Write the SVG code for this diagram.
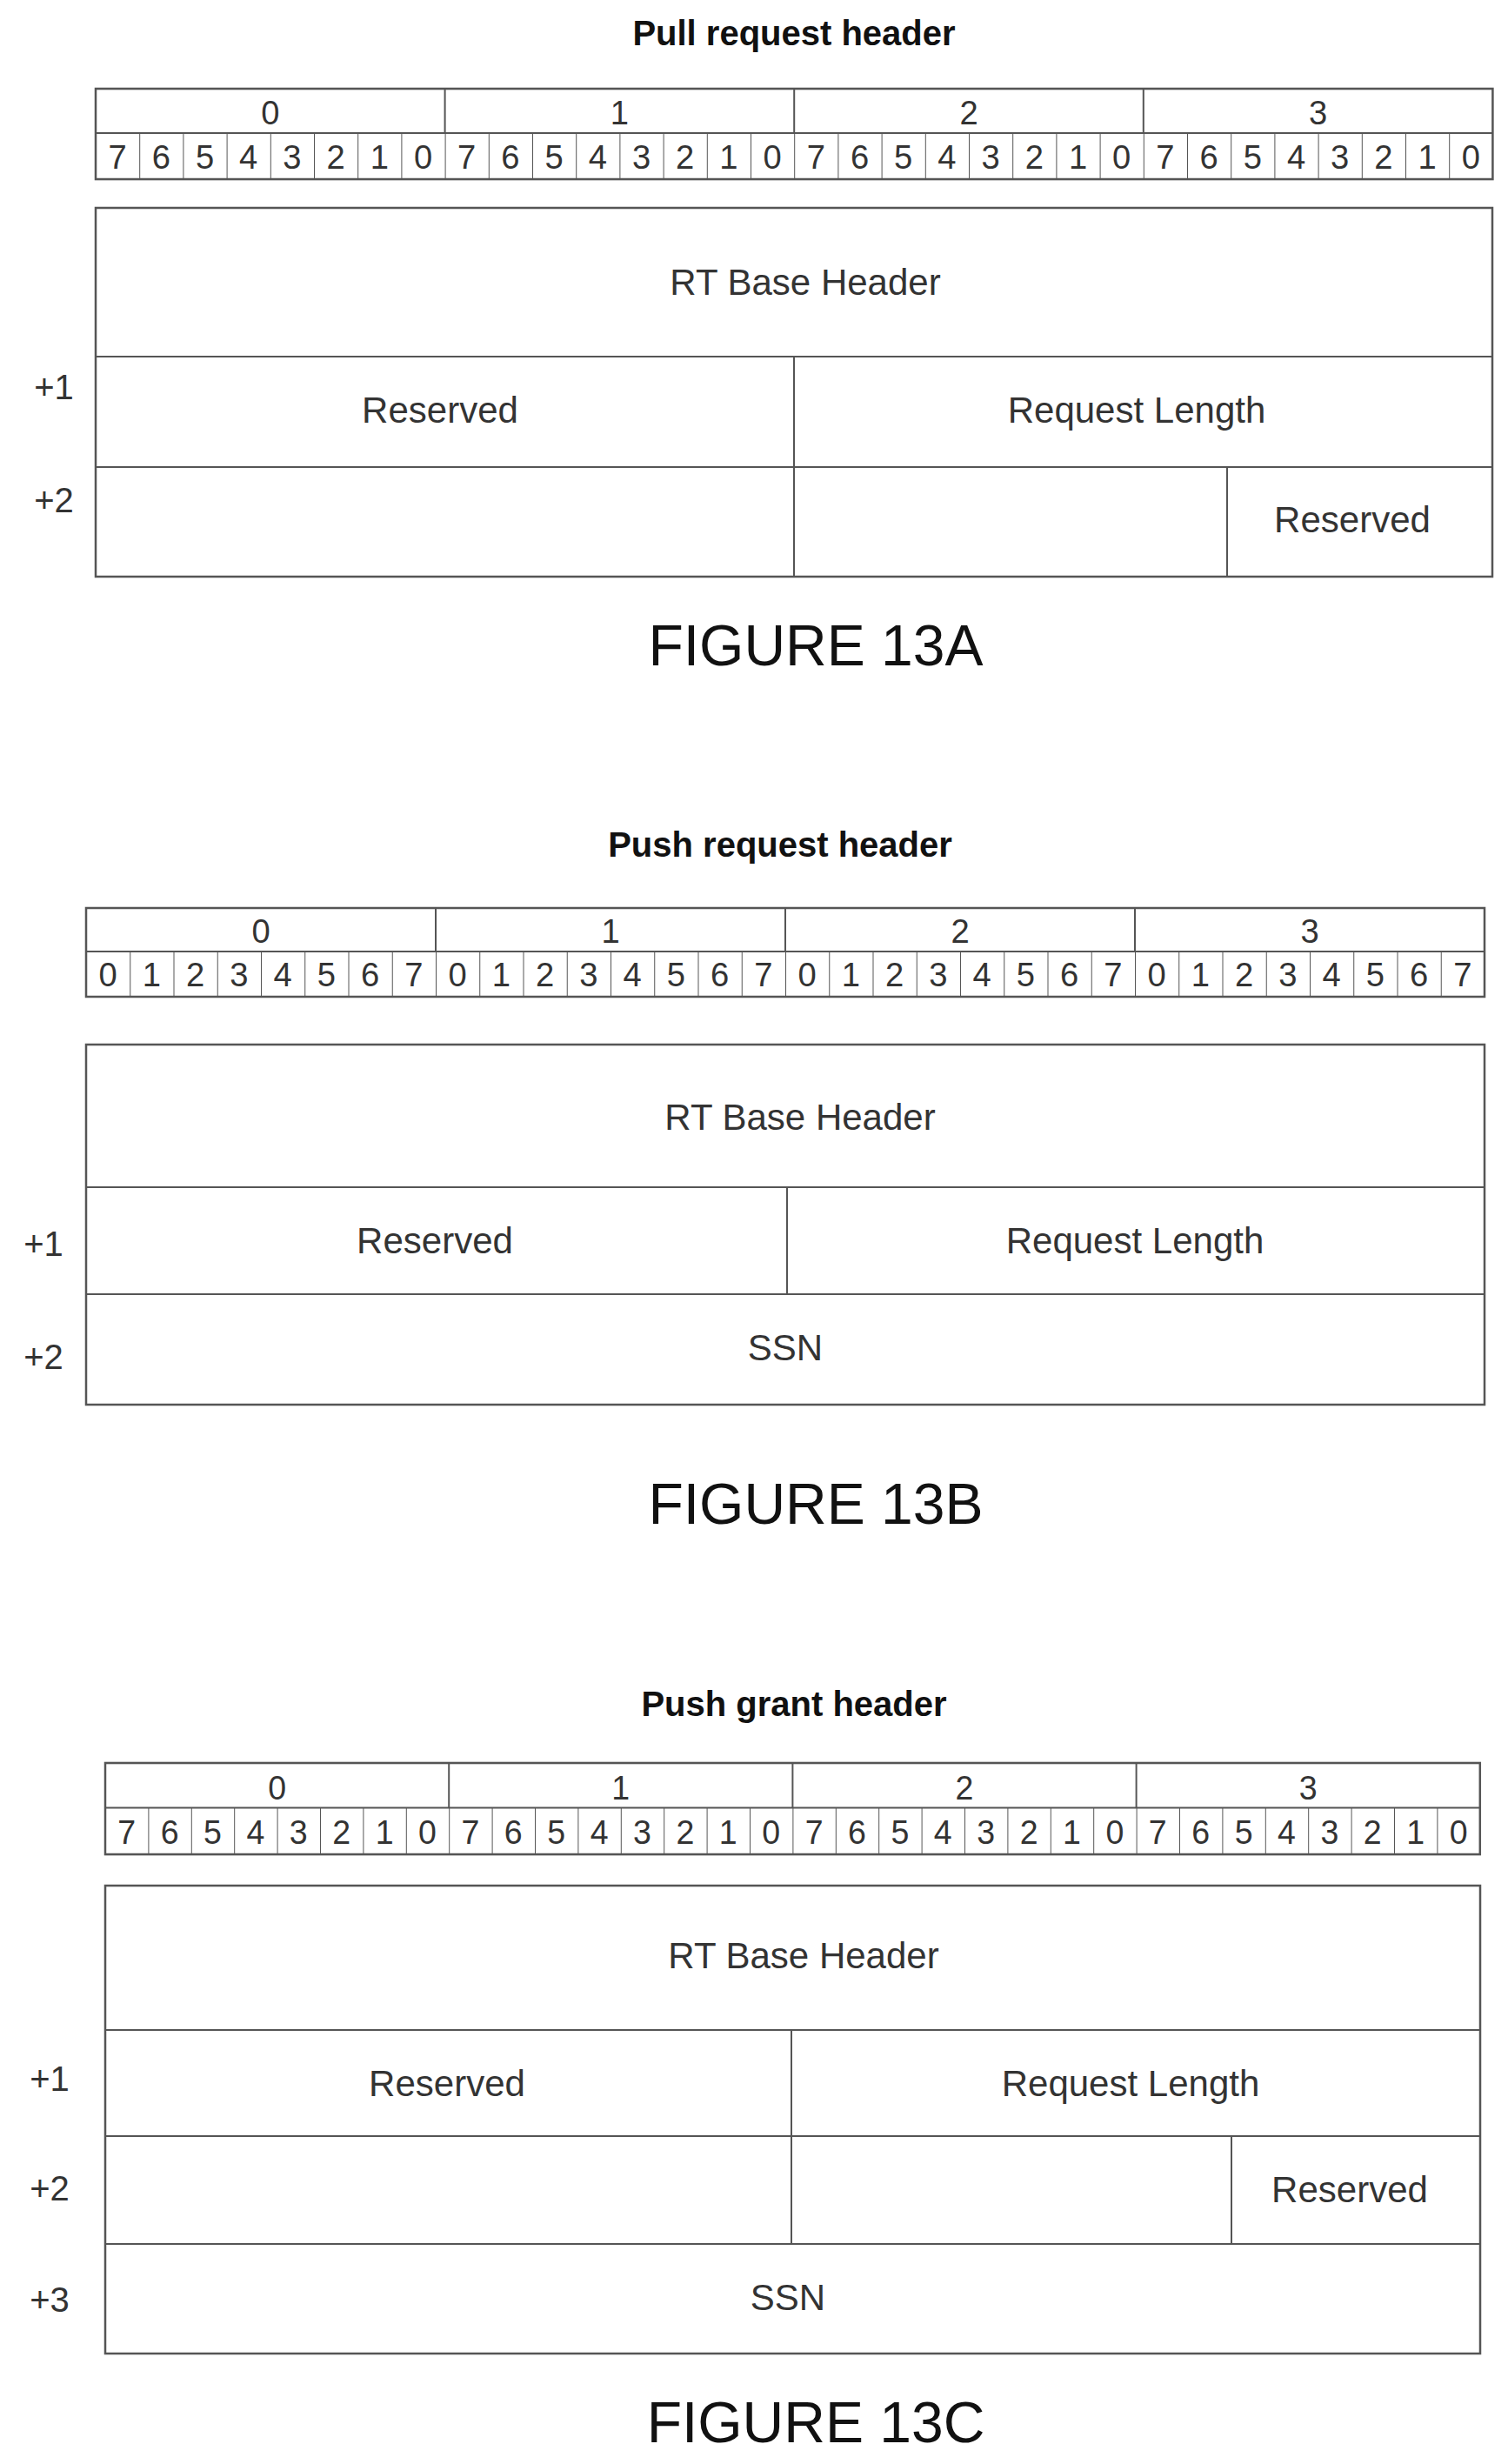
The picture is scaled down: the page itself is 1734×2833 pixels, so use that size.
<svg xmlns="http://www.w3.org/2000/svg" width="1734" height="2833" viewBox="0 0 1734 2833">
<style>
.t{font-family:"Liberation Sans",Arial,sans-serif;font-weight:bold;font-size:40px;fill:#111;text-anchor:middle}
.f{font-family:"Liberation Sans",Arial,sans-serif;font-size:66px;fill:#111;text-anchor:middle}
.c{font-family:"Liberation Sans",Arial,sans-serif;font-size:42px;fill:#333;text-anchor:middle;dominant-baseline:central}
.d{font-family:"Liberation Sans",Arial,sans-serif;font-size:38px;fill:#333;text-anchor:middle;dominant-baseline:central}
.l{font-family:"Liberation Sans",Arial,sans-serif;font-size:40px;fill:#333;text-anchor:middle;dominant-baseline:central}
.b{fill:none;stroke:#555;stroke-width:2.5}
.s{stroke:#555;stroke-width:2}
</style>
<defs>
<pattern id="cells" width="50" height="60" patternUnits="userSpaceOnUse"><line x1="0" y1="0" x2="0" y2="60" class="s"/></pattern>
<g id="tblframe">
<rect x="0" y="50" width="1600" height="52" fill="url(#cells)"/>
<rect x="0" y="0" width="1600" height="102" class="b"/>
<line x1="0" y1="50" x2="1600" y2="50" class="s"/>
<line x1="400" y1="0" x2="400" y2="50" class="s"/><line x1="800" y1="0" x2="800" y2="50" class="s"/><line x1="1200" y1="0" x2="1200" y2="50" class="s"/>
<text class="d" x="200" y="27">0</text><text class="d" x="600" y="27">1</text><text class="d" x="1000" y="27">2</text><text class="d" x="1400" y="27">3</text>
</g>
<g id="desc">
<text class="d" x="25" y="77">7</text><text class="d" x="75" y="77">6</text><text class="d" x="125" y="77">5</text><text class="d" x="175" y="77">4</text><text class="d" x="225" y="77">3</text><text class="d" x="275" y="77">2</text><text class="d" x="325" y="77">1</text><text class="d" x="375" y="77">0</text>
</g>
<g id="asc">
<text class="d" x="25" y="77">0</text><text class="d" x="75" y="77">1</text><text class="d" x="125" y="77">2</text><text class="d" x="175" y="77">3</text><text class="d" x="225" y="77">4</text><text class="d" x="275" y="77">5</text><text class="d" x="325" y="77">6</text><text class="d" x="375" y="77">7</text>
</g>
<g id="tdesc"><use href="#tblframe"/><use href="#desc"/><use href="#desc" x="400"/><use href="#desc" x="800"/><use href="#desc" x="1200"/></g>
<g id="tasc"><use href="#tblframe"/><use href="#asc"/><use href="#asc" x="400"/><use href="#asc" x="800"/><use href="#asc" x="1200"/></g>
</defs>

<g id="fig13a">
<text class="t" x="913" y="52">Pull request header</text>
<use href="#tdesc" transform="translate(110,102) scale(1.004,1.02)"/>
<rect x="110" y="239" width="1606" height="424" class="b"/>
<line x1="110" y1="410" x2="1716" y2="410" class="s"/>
<line x1="110" y1="537" x2="1716" y2="537" class="s"/>
<line x1="913" y1="410" x2="913" y2="663" class="s"/>
<line x1="1411" y1="537" x2="1411" y2="663" class="s"/>
<text class="c" x="926" y="324">RT Base Header</text>
<text class="c" x="506" y="471">Reserved</text>
<text class="c" x="1307" y="471">Request Length</text>
<text class="c" x="1555" y="597">Reserved</text>
<text class="l" x="62" y="445">+1</text>
<text class="l" x="62" y="575">+2</text>
<text class="f" x="938" y="765">FIGURE 13A</text>
</g>

<g id="fig13b">
<text class="t" x="897" y="985">Push request header</text>
<use href="#tasc" transform="translate(99,1044) scale(1.005,1)"/>
<rect x="99" y="1201" width="1608" height="414" class="b"/>
<line x1="99" y1="1365" x2="1707" y2="1365" class="s"/>
<line x1="99" y1="1488" x2="1707" y2="1488" class="s"/>
<line x1="905" y1="1365" x2="905" y2="1488" class="s"/>
<text class="c" x="920" y="1284">RT Base Header</text>
<text class="c" x="500" y="1426">Reserved</text>
<text class="c" x="1305" y="1426">Request Length</text>
<text class="c" x="903" y="1549">SSN</text>
<text class="l" x="50" y="1430">+1</text>
<text class="l" x="50" y="1560">+2</text>
<text class="f" x="938" y="1752">FIGURE 13B</text>
</g>

<g id="fig13c">
<text class="t" x="913" y="1973">Push grant header</text>
<use href="#tdesc" transform="translate(121,2027) scale(0.988,1.03)"/>
<rect x="121" y="2168" width="1581" height="538" class="b"/>
<line x1="121" y1="2334" x2="1702" y2="2334" class="s"/>
<line x1="121" y1="2456" x2="1702" y2="2456" class="s"/>
<line x1="121" y1="2580" x2="1702" y2="2580" class="s"/>
<line x1="910" y1="2334" x2="910" y2="2580" class="s"/>
<line x1="1416" y1="2456" x2="1416" y2="2580" class="s"/>
<text class="c" x="924" y="2248">RT Base Header</text>
<text class="c" x="514" y="2395">Reserved</text>
<text class="c" x="1300" y="2395">Request Length</text>
<text class="c" x="1552" y="2517">Reserved</text>
<text class="c" x="906" y="2641">SSN</text>
<text class="l" x="57" y="2390">+1</text>
<text class="l" x="57" y="2516">+2</text>
<text class="l" x="57" y="2644">+3</text>
<text class="f" x="938" y="2808">FIGURE 13C</text>
</g>
</svg>
